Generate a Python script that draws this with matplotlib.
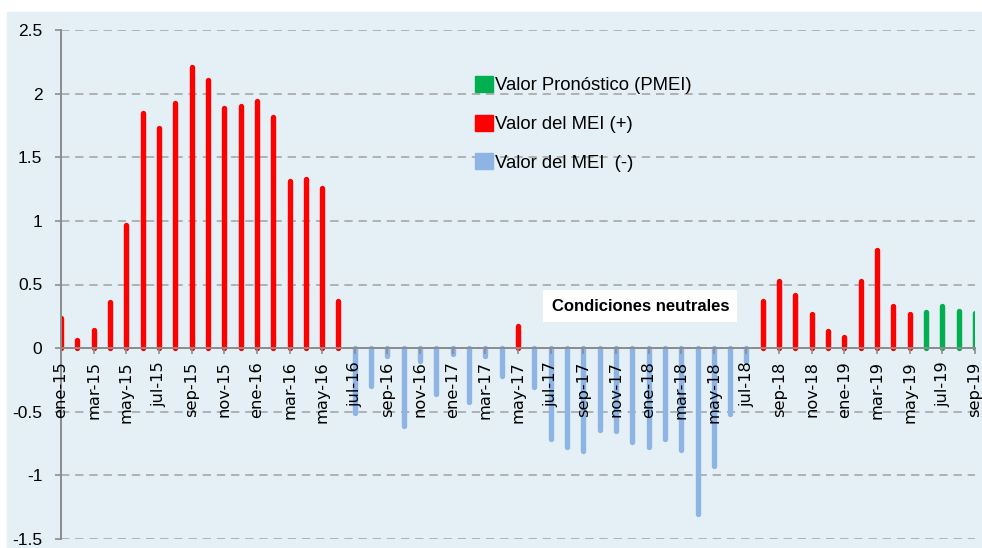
import matplotlib.pyplot as plt
import matplotlib.patches as mpatches
import numpy as np

# ---------------- DATA ----------------
months = ["ene", "feb", "mar", "abr", "may", "jun", "jul", "ago", "sep", "oct", "nov", "dic"]
labels = [f"{m}-{y}" for y in ["15", "16", "17", "18", "19"] for m in months][:57]

# valores observados del MEI (ene-15 .. may-19)
mei = [0.24, 0.065, 0.14, 0.36, 0.97, 1.85, 1.73, 1.93, 2.21, 2.11, 1.89, 1.90,
       1.94, 1.82, 1.31, 1.33, 1.26, 0.37, -0.51, -0.295, -0.06, -0.61, -0.10, -0.36,
       -0.05, -0.42, -0.06, -0.22, 0.175, -0.305, -0.715, -0.78, -0.81, -0.64, -0.65, -0.74,
       -0.78, -0.715, -0.80, -1.30, -0.93, -0.52, -0.10, 0.37, 0.53, 0.42, 0.27, 0.135,
       0.084, 0.53, 0.775, 0.33, 0.27]
# pronostico PMEI (jun-19 .. sep-19)
pmei = [0.285, 0.33, 0.295, 0.275]

RED = "#FF0000"
BLUE = "#8EB4E3"
GREEN = "#00B050"
BG = "#E4F0F5"
GRAY = "#8C8C8C"

x_mei = np.arange(len(mei))
x_pmei = np.arange(len(mei), len(mei) + len(pmei))
mei = np.array(mei)

fig = plt.figure(figsize=(9.82, 5.48), dpi=100)
fig.patch.set_facecolor("white")
fig.patches.append(mpatches.Rectangle((7 / 982, 0), 1, 1 - 12 / 548,
                                      transform=fig.transFigure, color=BG, zorder=-10))

ax = fig.add_axes([61 / 982, 9 / 548, (975 - 61) / 982, (539 - 30) / 548])
ax.set_facecolor(BG)

# spines first (set_position resets the ticks)
for s in ["top", "right"]:
    ax.spines[s].set_visible(False)
ax.spines["bottom"].set_position(("data", 0))
for s in ["bottom", "left"]:
    ax.spines[s].set_color(GRAY)
    ax.spines[s].set_linewidth(1.4)
    ax.spines[s].set_zorder(4)

lw = 3.9
pos = mei >= 0
ax.vlines(x_mei[pos], 0, mei[pos], color=RED, lw=lw, capstyle="round", zorder=3)
ax.vlines(x_mei[~pos], 0, mei[~pos], color=BLUE, lw=lw, capstyle="round", zorder=3)
ax.vlines(x_pmei, 0, pmei, color=GREEN, lw=lw, capstyle="round", zorder=3)

ax.set_xlim(0, 56)
ax.set_ylim(-1.5, 2.5)
ax.set_yticks(np.arange(-1.5, 2.51, 0.5))
ax.set_yticklabels(["-1.5", "-1", "-0.5", "0", "0.5", "1", "1.5", "2", "2.5"],
                   fontsize=12.5, family="Liberation Sans")
ax.yaxis.grid(True, color="#A6A6A6", linestyle=(0, (5, 3.5)), lw=1.2, zorder=0)
ax.set_axisbelow(True)

ax.set_xticks(np.arange(0, 57, 2))
ax.set_xticklabels(labels[::2], fontsize=11.7, family="DejaVu Sans")

ax.tick_params(axis="x", colors="black", color=GRAY, length=4.5, width=1.2, pad=5,
               labelrotation=90)
ax.tick_params(axis="y", colors="black", color=GRAY, length=4.5, width=1.2, pad=9)
# etiquetas del eje x encima de las barras, como en Excel
ax.xaxis.set_zorder(5)

handles = [mpatches.Patch(color=GREEN, label="Valor Pronóstico (PMEI)"),
           mpatches.Patch(color=RED, label="Valor del MEI (+)"),
           mpatches.Patch(color=BLUE, label="Valor del MEI  (-)")]
ax.legend(handles=handles, loc="upper left", bbox_to_anchor=(475 / 982, 1 - 76 / 548),
          bbox_transform=fig.transFigure, frameon=False, borderpad=0, borderaxespad=0,
          handlelength=0.95, handleheight=0.95, handletextpad=0.15, labelspacing=1.1,
          prop={"family": "Liberation Sans", "size": 13.3})

ax.text(35.5, 0.33, "Condiciones neutrales", fontsize=12, fontweight="bold",
        family="Liberation Sans", ha="center", va="center", zorder=6,
        bbox=dict(facecolor="white", edgecolor="none", pad=6))

plt.savefig("out.png", dpi=100, facecolor=fig.get_facecolor())
plt.close()
